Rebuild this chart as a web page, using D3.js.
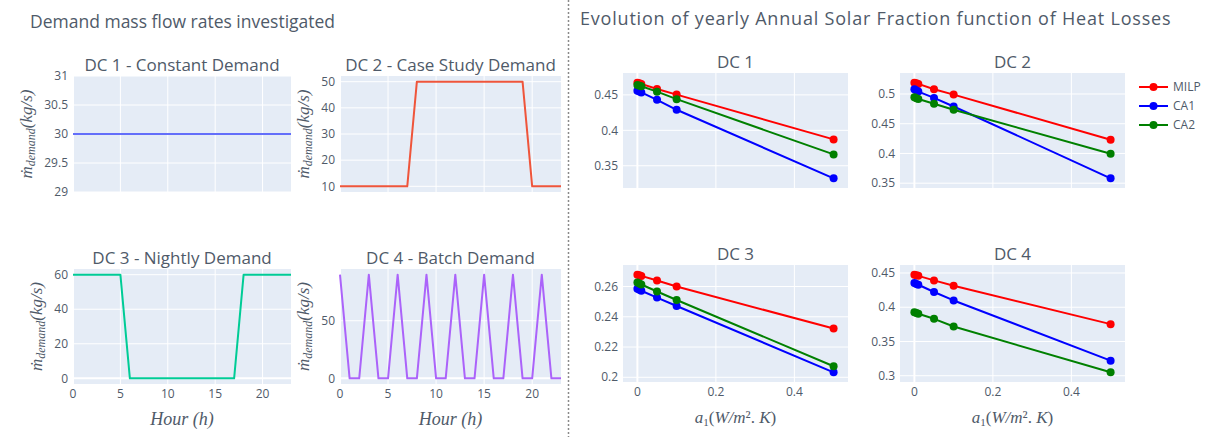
<!DOCTYPE html>
<html>
<head>
<meta charset="utf-8">
<script src="https://cdn.jsdelivr.net/npm/d3@7"></script>
<style>
  body { margin: 0; background: #fff; }
  svg { display: block; font-family: "Open Sans", "DejaVu Sans", sans-serif; }
</style>
</head>
<body>
<div id="chartDiv"></div>
<script>
// ---- data: demand profiles (kg/s per hour)
const hours = [0,1,2,3,4,5,6,7,8,9,10,11,12,13,14,15,16,17,18,19,20,21,22,23];
const dc1Demand = [30,30,30,30,30,30,30,30,30,30,30,30,30,30,30,30,30,30,30,30,30,30,30,30];
const dc2Demand = [10,10,10,10,10,10,10,10,50,50,50,50,50,50,50,50,50,50,50,50,10,10,10,10];
const dc3Demand = [60,60,60,60,60,60,0,0,0,0,0,0,0,0,0,0,0,0,60,60,60,60,60,60];
const dc4Demand = [90,0,0,90,0,0,90,0,0,90,0,0,90,0,0,90,0,0,90,0,0,90,0,0];

const hourTicks = [0, 5, 10, 15, 20];
const dc1Ticks = [29, 29.5, 30, 30.5, 31];
const dc2Ticks = [10, 20, 30, 40, 50];
const dc3Ticks = [0, 20, 40, 60];
const dc4Ticks = [0, 50];

// ---- data: annual solar fraction vs heat loss coefficient a1
const a1Values = [0, 0.005, 0.01, 0.05, 0.1, 0.5];
const a1Ticks = [0, 0.2, 0.4];

const dc1Milp = [0.4672, 0.4663, 0.4655, 0.4584, 0.4504, 0.3872];
const dc1Ca1  = [0.4560, 0.4548, 0.4535, 0.4430, 0.4290, 0.3323];
const dc1Ca2  = [0.4640, 0.4630, 0.4622, 0.4546, 0.4440, 0.3660];

const dc2Milp = [0.5190, 0.5180, 0.5170, 0.5080, 0.4990, 0.4230];
const dc2Ca1  = [0.5080, 0.5060, 0.5040, 0.4934, 0.4790, 0.3582];
const dc2Ca2  = [0.4944, 0.4930, 0.4915, 0.4835, 0.4736, 0.3995];

const dc3Milp = [0.2678, 0.2674, 0.2670, 0.2640, 0.2600, 0.2322];
const dc3Ca1  = [0.2585, 0.2578, 0.2572, 0.2527, 0.2471, 0.2033];
const dc3Ca2  = [0.2627, 0.2620, 0.2613, 0.2567, 0.2511, 0.2073];

const dc4Milp = [0.4475, 0.4467, 0.4458, 0.4392, 0.4314, 0.3753];
const dc4Ca1  = [0.4354, 0.4340, 0.4328, 0.4222, 0.4099, 0.3220];
const dc4Ca2  = [0.3926, 0.3916, 0.3905, 0.3831, 0.3718, 0.3050];

const sfTicks1 = [0.35, 0.4, 0.45];
const sfTicks2 = [0.35, 0.4, 0.45, 0.5];
const sfTicks3 = [0.2, 0.22, 0.24, 0.26];
const sfTicks4 = [0.3, 0.35, 0.4, 0.45];

const seriesNames = ["MILP", "CA1", "CA2"];
const seriesColors = ["#ff0000", "#0000ff", "#008000"];

const W = 1205, H = 437;
const textColor = "#4f5a69";
const plotBg = "#e5ecf6";

const svg = d3.select("#chartDiv").append("svg")
    .attr("width", W).attr("height", H);

// plotly-like autorange: pad by a number of pixels at each end
function padded(ext, px, padPx) {
    if (ext[0] === ext[1]) return [ext[0] - 1, ext[1] + 1];
    const k = padPx / (px - 2 * padPx);
    const span = ext[1] - ext[0];
    return [ext[0] - span * k, ext[1] + span * k];
}

function drawPanel(p) {
    const g = svg.append("g");
    const x = d3.scaleLinear().domain(p.xDomain).range([p.x0, p.x1]);
    const y = d3.scaleLinear().domain(p.yDomain).range([p.y1, p.y0]);

    g.append("rect")
        .attr("x", p.x0).attr("y", p.y0)
        .attr("width", p.x1 - p.x0).attr("height", p.y1 - p.y0)
        .attr("fill", plotBg);

    // grid
    g.append("g").selectAll("line").data(p.xTicks).join("line")
        .attr("x1", d => x(d)).attr("x2", d => x(d))
        .attr("y1", p.y0).attr("y2", p.y1)
        .attr("stroke", "#fff").attr("stroke-width", d => d === 0 ? 2 : 1);
    g.append("g").selectAll("line").data(p.yTicks).join("line")
        .attr("x1", p.x0).attr("x2", p.x1)
        .attr("y1", d => y(d)).attr("y2", d => y(d))
        .attr("stroke", "#fff").attr("stroke-width", d => d === 0 ? 2 : 1);

    // y tick labels
    const yl = g.append("g").selectAll("text").data(p.yTicks).join("text")
        .attr("x", p.x0 - 5).attr("y", d => y(d)).attr("dy", "0.35em")
        .attr("text-anchor", "end").attr("font-size", 12).attr("fill", textColor)
        .text(d => String(d));

    if (p.showX) {
        g.append("g").selectAll("text").data(p.xTicks).join("text")
            .attr("x", d => x(d)).attr("y", p.y1 + 14)
            .attr("text-anchor", "middle").attr("font-size", 12).attr("fill", textColor)
            .text(d => String(d));
    }

    // subplot title
    g.append("text")
        .attr("x", (p.x0 + p.x1) / 2).attr("y", p.y0 - 5)
        .attr("text-anchor", "middle").attr("font-size", 17).attr("fill", textColor)
        .text(p.title);

    // series
    const line = d3.line().x(d => x(d[0])).y(d => y(d[1]));
    p.series.forEach(s => {
        const pts = p.xs.map((v, i) => [v, s.values[i]]);
        g.append("path")
            .attr("d", line(pts))
            .attr("fill", "none").attr("stroke", s.color).attr("stroke-width", 2)
            .attr("stroke-linejoin", "round");
        if (s.markers) {
            g.append("g").selectAll("circle").data(pts).join("circle")
                .attr("cx", d => x(d[0])).attr("cy", d => y(d[1])).attr("r", 4)
                .attr("fill", s.color);
        }
    });

    // y axis title (left demand plots)
    if (p.yLabel) {
        let w = 0;
        yl.each(function() { w = Math.max(w, this.getComputedTextLength()); });
        const bx = p.x0 - 5 - w - 12;
        const cy = (p.y0 + p.y1) / 2;
        const t = g.append("text")
            .attr("transform", `translate(${bx},${cy}) rotate(-90)`)
            .attr("text-anchor", "middle")
            .attr("font-family", "'Liberation Serif', 'DejaVu Serif', serif")
            .attr("font-style", "italic").attr("font-size", 17).attr("fill", textColor);
        t.append("tspan").text("ṁ");
        t.append("tspan").attr("font-size", 12).attr("dy", 3).text("demand");
        t.append("tspan").attr("dy", -3).text("(kg/s)");
    }
    return { x, y };
}

// ---- left block: demand mass flow rates
const leftCols = [[73, 291], [340, 561]];
const leftRows = [[76, 192], [269, 384]];
const demandPanels = [
    { title: "DC 1 - Constant Demand", values: dc1Demand, ticks: dc1Ticks, color: "#636efa" },
    { title: "DC 2 - Case Study Demand", values: dc2Demand, ticks: dc2Ticks, color: "#ef553b" },
    { title: "DC 3 - Nightly Demand", values: dc3Demand, ticks: dc3Ticks, color: "#00cc96" },
    { title: "DC 4 - Batch Demand", values: dc4Demand, ticks: dc4Ticks, color: "#ab63fa" }
];
demandPanels.forEach((d, i) => {
    const [x0, x1] = leftCols[i % 2];
    const [y0, y1] = leftRows[Math.floor(i / 2)];
    drawPanel({
        x0, x1, y0, y1,
        xDomain: [0, 23],
        yDomain: padded(d3.extent(d.values), y1 - y0, 5.7),
        xTicks: hourTicks, yTicks: d.ticks,
        showX: i >= 2, title: d.title, yLabel: true,
        xs: hours,
        series: [{ values: d.values, color: d.color, markers: false }]
    });
});

// ---- right block: solar fraction
const rightCols = [[623, 848], [900, 1125]];
const rightRows = [[73, 188], [265, 382]];
const sfPanels = [
    { title: "DC 1", sets: [dc1Milp, dc1Ca1, dc1Ca2], ticks: sfTicks1 },
    { title: "DC 2", sets: [dc2Milp, dc2Ca1, dc2Ca2], ticks: sfTicks2 },
    { title: "DC 3", sets: [dc3Milp, dc3Ca1, dc3Ca2], ticks: sfTicks3 },
    { title: "DC 4", sets: [dc4Milp, dc4Ca1, dc4Ca2], ticks: sfTicks4 }
];
sfPanels.forEach((d, i) => {
    const [x0, x1] = rightCols[i % 2];
    const [y0, y1] = rightRows[Math.floor(i / 2)];
    drawPanel({
        x0, x1, y0, y1,
        xDomain: padded(d3.extent(a1Values), x1 - x0, 14.4),
        yDomain: padded(d3.extent(d.sets.flat()), y1 - y0, 9.7),
        xTicks: a1Ticks, yTicks: d.ticks,
        showX: i >= 2, title: d.title, yLabel: false,
        xs: a1Values,
        series: d.sets.map((v, k) => ({ values: v, color: seriesColors[k], markers: true }))
    });
});

// ---- x axis titles
function hourLabel(cx) {
    svg.append("text")
        .attr("x", cx).attr("y", 425).attr("text-anchor", "middle")
        .attr("font-family", "'Liberation Serif', 'DejaVu Serif', serif")
        .attr("font-style", "italic").attr("font-size", 18).attr("fill", textColor)
        .text("Hour (h)");
}
leftCols.forEach(c => hourLabel((c[0] + c[1]) / 2));

function a1Label(cx) {
    const t = svg.append("text")
        .attr("x", cx).attr("y", 423).attr("text-anchor", "middle")
        .attr("font-family", "'Liberation Serif', 'DejaVu Serif', serif")
        .attr("font-size", 17).attr("fill", textColor);
    t.append("tspan").attr("font-style", "italic").text("a");
    t.append("tspan").attr("font-size", 11).attr("dy", 3).text("1");
    t.append("tspan").attr("dy", -3).text("(");
    t.append("tspan").attr("font-style", "italic").text("W/m");
    t.append("tspan").text("². ");
    t.append("tspan").attr("font-style", "italic").text("K");
    t.append("tspan").text(")");
}
rightCols.forEach(c => a1Label((c[0] + c[1]) / 2));

// ---- legend
const legend = svg.append("g").attr("transform", "translate(1139,87)");
seriesNames.forEach((name, i) => {
    const row = legend.append("g").attr("transform", `translate(0,${i * 19})`);
    row.append("line").attr("x1", 0).attr("x2", 29)
        .attr("stroke", seriesColors[i]).attr("stroke-width", 2);
    row.append("circle").attr("cx", 14.5).attr("r", 4).attr("fill", seriesColors[i]);
    row.append("text").attr("x", 34).attr("dy", "0.35em")
        .attr("font-size", 12).attr("fill", textColor).text(name);
});

// ---- block titles and separator
svg.append("text").attr("x", 30).attr("y", 28)
    .attr("font-size", 17.5).attr("fill", textColor)
    .text("Demand mass flow rates investigated");
svg.append("text").attr("x", 580).attr("y", 25)
    .attr("font-size", 18).attr("letter-spacing", 0.8).attr("fill", textColor)
    .text("Evolution of yearly Annual Solar Fraction function of Heat Losses");

svg.append("line")
    .attr("x1", 568.5).attr("x2", 568.5).attr("y1", 0).attr("y2", H)
    .attr("stroke", "#8a8a8a").attr("stroke-width", 1.5)
    .attr("stroke-dasharray", "2,2");
</script>
</body>
</html>
